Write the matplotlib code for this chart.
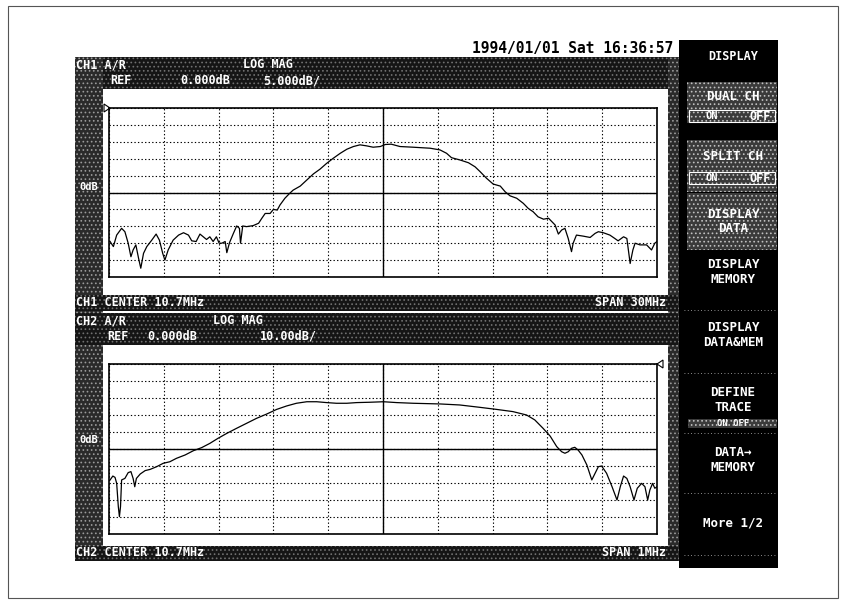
import matplotlib; matplotlib.use("Agg")
import matplotlib.pyplot as plt
from matplotlib.patches import Rectangle, Polygon

# ---------------- data ----------------
# x in graticule divisions (0..10), y in dB relative to REF
ch1_x = [0.02, 0.08, 0.14, 0.23, 0.29, 0.35, 0.40, 0.44, 0.49, 0.54, 0.58, 0.63,
         0.69, 0.78, 0.86, 0.92, 0.98, 1.02, 1.08, 1.17, 1.27, 1.36, 1.45, 1.51,
         1.59, 1.66, 1.72, 1.78, 1.84, 1.90, 1.96, 2.01, 2.06, 2.12, 2.15, 2.20,
         2.27, 2.33, 2.38, 2.40, 2.44, 2.51, 2.63, 2.73, 2.79, 2.85, 2.94, 3.00,
         3.07, 3.12, 3.21, 3.30, 3.36, 3.49, 3.61, 3.73, 3.85, 3.97, 4.09, 4.22,
         4.34, 4.46, 4.58, 4.70, 4.82, 4.95, 5.04, 5.15, 5.31, 5.55, 5.86, 6.04,
         6.16, 6.25, 6.41, 6.56, 6.68, 6.77, 6.89, 7.01, 7.14, 7.23, 7.32, 7.44,
         7.56, 7.65, 7.74, 7.83, 7.93, 8.02, 8.08, 8.14, 8.20, 8.26, 8.32, 8.38,
         8.44, 8.47, 8.53, 8.65, 8.78, 8.87, 8.93, 9.02, 9.14, 9.23, 9.29, 9.39,
         9.45, 9.51, 9.56, 9.60, 9.69, 9.81, 9.90, 9.96, 10.0]
ch1_db = [-14.5, -16.0, -12.6, -10.6, -11.6, -15.0, -19.0, -17.0, -15.5, -19.5, -22.4, -18.0,
          -16.0, -14.1, -12.3, -14.1, -18.0, -20.0, -17.0, -14.1, -12.6, -11.9, -12.6, -14.3,
          -14.5, -12.3, -13.1, -13.9, -13.1, -14.5, -13.1, -15.0, -15.0, -14.5, -17.8, -14.8,
          -12.1, -9.9, -10.6, -15.0, -9.9, -10.1, -9.8, -9.1, -7.6, -6.2, -6.2, -5.0,
          -5.2, -3.7, -1.7, -0.2, 0.7, 1.9, 3.7, 5.5, 6.9, 8.6, 10.1, 11.6,
          12.8, 13.6, 14.1, 13.8, 13.4, 13.6, 14.2, 14.3, 13.6, 13.4, 13.1, 12.6,
          11.6, 10.3, 9.6, 8.8, 7.6, 6.2, 4.2, 2.5, 1.9, 0.2, -1.0, -1.7,
          -3.2, -4.7, -5.7, -7.2, -7.9, -7.6, -8.6, -9.6, -12.3, -11.1, -10.6, -13.6,
          -17.5, -15.0, -12.6, -12.9, -13.3, -12.1, -11.6, -11.9, -12.6, -13.6, -14.3, -13.1,
          -13.6, -21.0, -17.0, -15.0, -15.5, -15.5, -17.0, -15.0, -14.5]

ch2_x = [0.02, 0.07, 0.11, 0.14, 0.17, 0.19, 0.21, 0.23, 0.29, 0.35, 0.40, 0.44,
         0.47, 0.50, 0.57, 0.66, 0.75, 0.87, 0.99, 1.11, 1.23, 1.39, 1.54, 1.69,
         1.84, 1.99, 2.15, 2.33, 2.51, 2.69, 2.88, 3.06, 3.24, 3.42, 3.61, 3.79,
         3.97, 4.15, 4.34, 4.52, 4.76, 5.01, 5.25, 5.55, 6.04, 6.40, 6.77, 7.07,
         7.37, 7.62, 7.77, 7.92, 8.05, 8.17, 8.26, 8.32, 8.38, 8.44, 8.50, 8.56,
         8.63, 8.72, 8.81, 8.87, 8.93, 8.99, 9.08, 9.18, 9.27, 9.33, 9.39, 9.45,
         9.51, 9.58, 9.64, 9.72, 9.78, 9.83, 9.87, 9.92, 9.96, 10.0]
ch2_db = [-18.2, -15.9, -16.7, -20.2, -33.9, -39.8, -33.9, -18.2, -17.3, -13.9, -13.3, -17.3,
          -22.2, -17.3, -14.7, -12.7, -12.0, -10.4, -8.4, -7.5, -5.5, -3.5, -1.0, 0.8,
          3.3, 6.3, 9.2, 12.2, 15.1, 18.0, 20.6, 23.3, 25.3, 26.9, 27.8, 27.8,
          27.3, 26.9, 26.9, 27.3, 27.5, 27.8, 27.3, 26.9, 26.5, 25.9, 24.5, 23.3,
          22.0, 20.0, 17.1, 12.2, 7.6, 1.4, -1.6, -2.5, -1.6, 0.4, 1.0, -0.6,
          -3.5, -9.4, -18.2, -14.3, -10.4, -10.0, -14.3, -22.2, -30.0, -22.2, -15.9, -17.3,
          -22.2, -30.0, -23.1, -20.2, -22.2, -30.0, -24.1, -20.2, -23.1, -22.2]

ch1_scale = 5.0    # dB/div
ch2_scale = 10.0   # dB/div

date_text = "1994/01/01 Sat 16:36:57"
ch1_header = ["CH1 A/R", "LOG MAG", "REF", "0.000dB", "5.000dB/"]
ch2_header = ["CH2 A/R", "LOG MAG", "REF", "0.000dB", "10.00dB/"]
ch1_status = ["CH1 CENTER 10.7MHz", "SPAN 30MHz"]
ch2_status = ["CH2 CENTER 10.7MHz", "SPAN 1MHz"]
menu_title = "DISPLAY"
menu_plain = [("DISPLAY\nMEMORY", 272), ("DISPLAY\nDATA&MEM", 335),
              ("DEFINE\nTRACE", 400), ("DATA\u2192\nMEMORY", 460), ("More 1/2", 523)]
menu_seps = [310, 373, 433, 493, 555]

# ---------------- figure in screen pixels ----------------
W, H = 846, 607
MONO = "DejaVu Sans Mono"
plt.rcParams["hatch.linewidth"] = 0.7

fig = plt.figure(figsize=(W / 100, H / 100), dpi=100)
bg = fig.add_axes([0, 0, 1, 1])
bg.set_xlim(0, W); bg.set_ylim(H, 0); bg.axis("off")


def box(x0, y0, x1, y1, fc="#151515", hatch="....", hc="#707070", z=1):
    bg.add_patch(Rectangle((x0, y0), x1 - x0, y1 - y0, facecolor=fc, edgecolor=hc,
                           hatch=hatch, lw=0, zorder=z))


def txt(x, y, s, size=8.5, ha="left", color="white", **kw):
    bg.text(x, y, s, fontsize=size, ha=ha, va="center", color=color,
            family=MONO, fontweight="bold", zorder=5, **kw)


# outer frame of the scan
bg.add_patch(Rectangle((8, 6), 830, 592, fill=False, ec="#555555", lw=0.8))

# textured screen borders
box(75, 57, 678, 89)          # CH1 header
box(75, 57, 103, 561, fc="#2a2a2a", hc="#9a9a9a")   # left strip
box(668, 57, 679, 561, fc="#2a2a2a", hc="#9a9a9a")  # right strip
box(75, 295, 678, 311)        # CH1 status
box(75, 313, 678, 345)        # CH2 header
box(75, 546, 678, 561)        # CH2 status

txt(76, 65, ch1_header[0]); txt(243, 65, ch1_header[1])
txt(110, 81, ch1_header[2]); txt(180, 81, ch1_header[3]); txt(263, 81, ch1_header[4])
txt(76, 303, ch1_status[0]); txt(666, 303, ch1_status[1], ha="right")
txt(76, 321, ch2_header[0]); txt(213, 321, ch2_header[1])
txt(107, 336, ch2_header[2]); txt(147, 336, ch2_header[3]); txt(260, 336, ch2_header[4])
txt(76, 553, ch2_status[0]); txt(666, 553, ch2_status[1], ha="right")
txt(89, 187, "0dB", size=7.5, ha="center")
txt(89, 440, "0dB", size=7.5, ha="center")

txt(673, 48, date_text, size=10.5, ha="right", color="black")

# softkey panel
bg.add_patch(Rectangle((679, 40), 99, 528, facecolor="black", lw=0, zorder=1))
txt(733, 56, menu_title, size=8.5, ha="center")
for y0, y1, label, onoff in [(82, 123, "DUAL CH", 116), (140, 192, "SPLIT CH", 178),
                             (193, 250, "DISPLAY\nDATA", None)]:
    box(687, y0, 777, y1, fc="#3a3a3a", hc="#c0c0c0", z=2)
    if onoff:
        txt(733, (y0 + onoff) / 2 - 3, label, size=9, ha="center")
        bg.add_patch(Rectangle((689, onoff - 6), 86, 12, fill=False, ec="white",
                               lw=0.8, zorder=3))
        txt(712, onoff, "ON", size=7.5, ha="center")
        txt(760, onoff, "OFF", size=8.5, ha="center")
    else:
        txt(733, (y0 + y1) / 2, label, size=9, ha="center", linespacing=1.1)
for label, y in menu_plain:
    txt(733, y, label, size=9, ha="center", linespacing=1.15)
box(688, 419, 777, 428, fc="#3a3a3a", hc="#c0c0c0", z=2)
txt(733, 423.5, "ON OFF", size=6.5, ha="center")
for y in menu_seps:
    bg.plot([684, 776], [y, y], ls=(0, (1, 3)), color="#bbbbbb", lw=0.6, zorder=2)


# ---------------- the two graticules ----------------
def graticule(x0, y0, x1, y1, xs, ys, scale, marker_side):
    ax = fig.add_axes([x0 / W, 1 - y1 / H, (x1 - x0) / W, (y1 - y0) / H])
    ax.set_xlim(0, 10); ax.set_ylim(-5 * scale, 5 * scale)
    ax.set_xticks(range(11)); ax.set_yticks([k * scale for k in range(-5, 6)])
    ax.tick_params(length=0, labelbottom=False, labelleft=False)
    ax.grid(True, ls=(0, (1.2, 2)), color="black", lw=0.8)
    ax.axvline(5, color="black", lw=1.0)
    ax.axhline(0, color="black", lw=1.0)
    for s in ax.spines.values():
        s.set_linewidth(1.2)
    ax.plot(xs, ys, color="black", lw=0.9)
    if marker_side == "left":
        tri = [(x0 - 5, y0 - 4), (x0 - 5, y0 + 4), (x0 + 1, y0)]
    else:
        tri = [(x1 + 6, y0 - 4), (x1 + 6, y0 + 4), (x1, y0)]
    bg.add_patch(Polygon(tri, closed=True, fill=False, ec="black", lw=0.8, zorder=4))
    return ax


graticule(109, 108, 657, 277, ch1_x, ch1_db, ch1_scale, "left")
graticule(109, 364, 657, 534, ch2_x, ch2_db, ch2_scale, "right")

fig.savefig("out.png", dpi=100)
